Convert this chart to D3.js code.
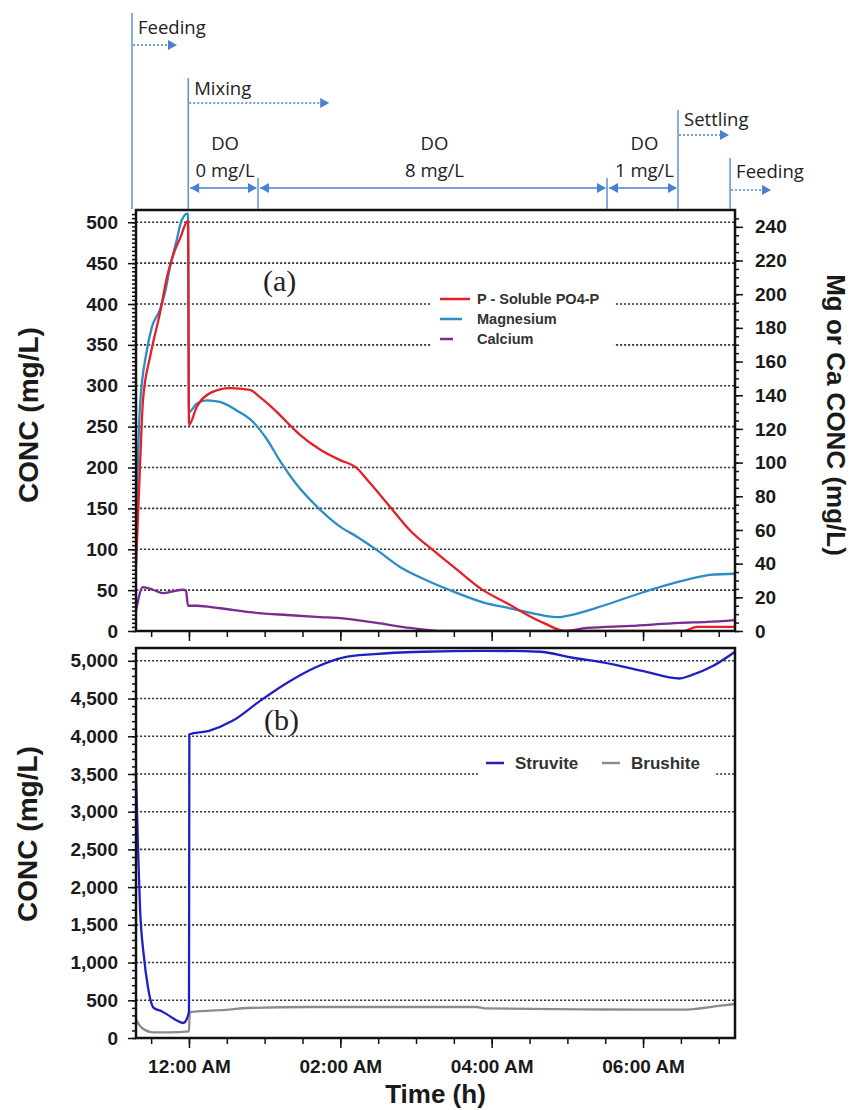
<!DOCTYPE html>
<html>
<head>
<meta charset="utf-8">
<script src="https://cdn.jsdelivr.net/npm/d3@7"></script>
<style>
  body { margin: 0; background: #fff; }
  svg { display: block; }
  .tick text { font-family: "Liberation Sans", Arial, sans-serif; font-weight: bold; font-size: 19px; fill: #1a1a1a; }
  .tick line { stroke: #111; stroke-width: 1.5; }
  .ann { font-family: "Open Sans", sans-serif; font-size: 18.5px; fill: #222; }
  .title { font-family: "Liberation Sans", Arial, sans-serif; font-weight: bold; fill: #1a1a1a; }
</style>
</head>
<body>
<svg id="chart" width="854" height="1110"></svg>
<script>
// time is in hours from midnight (negative = before 12:00 AM)

// panel (a) - P on left axis, Mg / Ca on right axis
var hoursP = [-0.70, -0.648, -0.608, -0.515, -0.476, -0.383, -0.291, -0.185, -0.119, -0.013, 0.0,
    0.102, 0.278, 0.542, 0.806, 0.938, 1.159, 1.374, 1.467, 1.731, 1.996, 2.194, 2.392, 2.656,
    2.921, 3.225, 3.542, 3.885, 4.202, 4.546, 4.705, 4.969, 6.528, 6.713, 7.215];
var phosphate = [80, 200, 282, 335, 352, 389, 433, 466, 480, 502, 252,
    274, 291, 297, 295, 286, 268, 248, 240, 222, 209, 201, 181, 152,
    123, 99, 75, 50, 34, 16, 9, 0, 0, 5, 5];

var hoursMg = [-0.70, -0.648, -0.559, -0.493, -0.383, -0.317, -0.251, -0.163, -0.096, -0.013, 0.0,
    0.102, 0.234, 0.41, 0.63, 0.85, 1.027, 1.203, 1.423, 1.688, 1.996, 2.22, 2.484, 2.788,
    3.145, 3.489, 3.885, 4.242, 4.546, 4.731, 4.87, 4.995, 5.471, 6.0, 6.581, 6.885, 7.215];
var magnesium = [60, 133, 166, 180, 191, 201, 216, 232, 244, 248, 130,
    135, 137, 136, 131, 124, 114, 101, 87, 74, 62, 56, 48, 38,
    30, 23.5, 17, 13.5, 10.5, 8.8, 8.2, 9, 15, 23, 30.5, 33.3, 34];

var hoursCa = [-0.70, -0.608, -0.476, -0.344, -0.211, -0.079, -0.04, -0.013, 0.106, 0.41, 0.846,
    1.295, 1.731, 1.996, 2.484, 2.921, 3.357, 4.943, 5.26, 5.828, 6.489, 6.846, 7.215];
var calcium = [12, 26, 24.5, 22.5, 23.5, 24.5, 24, 15, 15, 13.5, 11,
    9.5, 8.3, 7.7, 4.8, 1.8, 0, 0, 1.8, 3, 4.8, 5.4, 6.5];

// panel (b)
var hoursStruvite = [-0.70, -0.674, -0.648, -0.596, -0.544, -0.466, -0.362, -0.284, -0.18, -0.075, -0.024,
    0.0, 0.005, 0.263, 0.575, 0.94, 1.304, 1.669, 2.034, 2.45, 3.075, 3.908, 4.637, 5.054,
    5.47, 5.99, 6.485, 6.615, 6.928, 7.215];
var struvite = [3500, 2544, 1748, 1084, 686, 398, 354, 310, 243, 199, 265,
    354, 4027, 4071, 4204, 4469, 4713, 4912, 5044, 5089, 5120, 5133, 5120, 5044,
    4978, 4867, 4766, 4801, 4934, 5120];

var hoursBrushite = [-0.70, -0.622, -0.466, -0.258, 0.0, 0.01, 0.523, 0.784, 1.565, 3.803, 3.908,
    5.47, 6.511, 7.032, 7.215];
var brushite = [243, 133, 75, 75, 88, 340, 376, 398, 411, 411, 392,
    378, 376, 429, 451];

// ticks and labels
var leftTicksA = [0, 50, 100, 150, 200, 250, 300, 350, 400, 450, 500];
var rightTicksA = [0, 20, 40, 60, 80, 100, 120, 140, 160, 180, 200, 220, 240];
var leftTicksB = [0, 500, 1000, 1500, 2000, 2500, 3000, 3500, 4000, 4500, 5000];
var timeTicks = [0, 2, 4, 6];
var timeTickLabels = ["12:00 AM", "02:00 AM", "04:00 AM", "06:00 AM"];

var seriesA = ["P - Soluble PO4-P", "Magnesium", "Calcium"];
var seriesB = ["Struvite", "Brushite"];

// operating phases drawn above panel (a)
var phaseNames = ["Feeding", "Mixing", "Settling", "Feeding"];
var phaseStart = [-0.753, -0.01, 6.462, 7.15];
var doTitle = "DO";
var doLabels = ["0 mg/L", "8 mg/L", "1 mg/L"];
var doBounds = [-0.01, 0.912, 5.524, 6.462];

var svg = d3.select("#chart"),
    LEFT = 136,
    RIGHT = 735,
    TOP_A = 210,
    BOT_A = 631,
    TOP_B = 648,
    BOT_B = 1038,
    BLUE_ANN = "#4a7fd2",
    colorsA = ["#e41f26", "#2b8cc6", "#7b2a8e"],
    colorsB = ["#1f1fc4", "#8c8c8c"];

svg.append("rect").attr("width", 854).attr("height", 1110).attr("fill", "#fff");

var x = d3.scaleLinear().domain([-0.70, 7.215]).range([LEFT, RIGHT]),
    yA = d3.scaleLinear().domain([0, 515]).range([BOT_A, TOP_A]),
    yAR = d3.scaleLinear().domain([0, 250]).range([BOT_A, TOP_A]),
    yB = d3.scaleLinear().domain([0, 5170]).range([BOT_B, TOP_B]);

// dashed gridlines
function grid(scale, ticks) {
    svg.append("g").selectAll("line")
        .data(ticks.filter(function(d) { return d > 0; }))
        .enter().append("line")
        .attr("x1", LEFT).attr("x2", RIGHT)
        .attr("y1", function(d) { return scale(d); })
        .attr("y2", function(d) { return scale(d); })
        .attr("stroke", "#3a3a3a")
        .attr("stroke-width", 1.6)
        .attr("stroke-dasharray", "2.2,1.8");
}
grid(yA, leftTicksA);
grid(yB, leftTicksB);

// legend backgrounds hide the gridlines
svg.append("rect").attr("x", 432).attr("y", 284).attr("width", 182).attr("height", 68).attr("fill", "#fff");
svg.append("rect").attr("x", 478).attr("y", 752).attr("width", 236).attr("height", 26).attr("fill", "#fff");

// axes
function noDomain(g) { g.select(".domain").remove(); }

svg.append("g").attr("transform", "translate(" + LEFT + ",0)")
    .call(d3.axisLeft(yA).tickValues(d3.range(0, 515, 5)).tickSize(4).tickFormat(""))
    .call(noDomain);
svg.append("g").attr("transform", "translate(" + LEFT + ",0)")
    .call(d3.axisLeft(yA).tickValues(leftTicksA).tickSize(8).tickPadding(10))
    .call(noDomain);

svg.append("g").attr("transform", "translate(" + RIGHT + ",0)")
    .call(d3.axisRight(yAR).tickValues(d3.range(0, 250, 5)).tickSize(4).tickFormat(""))
    .call(noDomain);
svg.append("g").attr("transform", "translate(" + RIGHT + ",0)")
    .call(d3.axisRight(yAR).tickValues(rightTicksA).tickSize(8).tickPadding(12))
    .call(noDomain);

svg.append("g").attr("transform", "translate(" + LEFT + ",0)")
    .call(d3.axisLeft(yB).tickValues(d3.range(0, 5170, 100)).tickSize(4).tickFormat(""))
    .call(noDomain);
svg.append("g").attr("transform", "translate(" + LEFT + ",0)")
    .call(d3.axisLeft(yB).tickValues(leftTicksB).tickSize(8).tickPadding(10).tickFormat(d3.format(",")))
    .call(noDomain);

var minorTimes = d3.range(-0.5, 7.21, 0.5);
[BOT_A, BOT_B].forEach(function(yy, k) {
    svg.append("g").attr("transform", "translate(0," + yy + ")")
        .call(d3.axisBottom(x).tickValues(minorTimes).tickSize(6).tickFormat(""))
        .call(noDomain);
    svg.append("g").attr("transform", "translate(0," + yy + ")")
        .call(d3.axisBottom(x).tickValues(timeTicks).tickSize(10).tickPadding(12)
            .tickFormat(function(d, i) { return k == 1 ? timeTickLabels[i] : ""; }))
        .call(noDomain);
});

// series lines
svg.append("clipPath").attr("id", "clipA").append("rect")
    .attr("x", LEFT).attr("y", TOP_A).attr("width", RIGHT - LEFT).attr("height", BOT_A - TOP_A);
svg.append("clipPath").attr("id", "clipB").append("rect")
    .attr("x", LEFT).attr("y", TOP_B).attr("width", RIGHT - LEFT).attr("height", BOT_B - TOP_B);

function drawLine(hours, values, yScale, color, clip) {
    var lineGen = d3.line()
        .x(function(d) { return x(d[0]); })
        .y(function(d) { return yScale(d[1]); })
        .curve(d3.curveMonotoneX);
    svg.append("path")
        .attr("d", lineGen(d3.zip(hours, values)))
        .attr("clip-path", "url(#" + clip + ")")
        .attr("stroke", color)
        .attr("stroke-width", 2.3)
        .attr("stroke-linejoin", "round")
        .attr("fill", "none");
}
drawLine(hoursCa, calcium, yAR, colorsA[2], "clipA");
drawLine(hoursMg, magnesium, yAR, colorsA[1], "clipA");
drawLine(hoursP, phosphate, yA, colorsA[0], "clipA");
drawLine(hoursBrushite, brushite, yB, colorsB[1], "clipB");
drawLine(hoursStruvite, struvite, yB, colorsB[0], "clipB");

// frames
[[TOP_A, BOT_A], [TOP_B, BOT_B]].forEach(function(p) {
    svg.append("rect")
        .attr("x", LEFT).attr("y", p[0])
        .attr("width", RIGHT - LEFT).attr("height", p[1] - p[0])
        .attr("fill", "none").attr("stroke", "#111").attr("stroke-width", 2.5);
});

// legends
var legLenA = [30, 22, 13];
seriesA.forEach(function(name, i) {
    var ly = 299 + i * 20;
    svg.append("line").attr("x1", 440).attr("x2", 440 + legLenA[i]).attr("y1", ly).attr("y2", ly)
        .attr("stroke", colorsA[i]).attr("stroke-width", 2.5);
    svg.append("text").attr("class", "title").attr("x", 477).attr("y", ly + 5)
        .style("font-size", "14.5px").style("fill", "#333").text(name);
});
var legXB = [486, 602];
seriesB.forEach(function(name, i) {
    svg.append("line").attr("x1", legXB[i]).attr("x2", legXB[i] + 18).attr("y1", 763).attr("y2", 763)
        .attr("stroke", colorsB[i]).attr("stroke-width", 2.5);
    svg.append("text").attr("class", "title").attr("x", legXB[i] + 29).attr("y", 769)
        .style("font-size", "17px").style("fill", "#333").text(name);
});

svg.append("text").attr("x", 263).attr("y", 291)
    .style("font-family", "'Liberation Serif', serif").style("font-size", "30px").style("fill", "#222")
    .text("(a)");
svg.append("text").attr("x", 264).attr("y", 730)
    .style("font-family", "'Liberation Serif', serif").style("font-size", "30px").style("fill", "#222")
    .text("(b)");

// axis titles
svg.append("text").attr("class", "title")
    .attr("transform", "translate(28,415) rotate(-90)")
    .attr("text-anchor", "middle").attr("dominant-baseline", "central")
    .style("font-size", "28px").text("CONC (mg/L)");
svg.append("text").attr("class", "title")
    .attr("transform", "translate(27,834) rotate(-90)")
    .attr("text-anchor", "middle").attr("dominant-baseline", "central")
    .style("font-size", "28px").text("CONC (mg/L)");
svg.append("text").attr("class", "title")
    .attr("transform", "translate(836,415) rotate(90)")
    .attr("text-anchor", "middle").attr("dominant-baseline", "central")
    .style("font-size", "26px").text("Mg or Ca CONC (mg/L)");
svg.append("text").attr("class", "title")
    .attr("x", (LEFT + RIGHT) / 2).attr("y", 1103)
    .attr("text-anchor", "middle")
    .style("font-size", "26px").text("Time (h)");

// phase annotations
function head(px, py, dir) {
    svg.append("path")
        .attr("d", "M" + px + "," + py + "L" + (px - dir * 9) + "," + (py - 5) + "L" + (px - dir * 9) + "," + (py + 5) + "Z")
        .attr("fill", BLUE_ANN);
}
function vline(px, top) {
    svg.append("line").attr("x1", px).attr("x2", px).attr("y1", top).attr("y2", TOP_A - 1)
        .attr("stroke", BLUE_ANN).attr("stroke-width", 1.3);
}

var phaseTop = [13, 78, 110, 158],
    phaseTextY = [34, 95, 126, 178],
    phaseArrowY = [45, 103, 135, 190],
    phaseArrowLen = [45, 141, 51, 41];
phaseNames.forEach(function(name, i) {
    var px = x(phaseStart[i]);
    vline(px, phaseTop[i]);
    svg.append("text").attr("class", "ann").attr("x", px + 6).attr("y", phaseTextY[i]).text(name);
    svg.append("line")
        .attr("x1", px + 1).attr("x2", px + phaseArrowLen[i] - 6)
        .attr("y1", phaseArrowY[i]).attr("y2", phaseArrowY[i])
        .attr("stroke", BLUE_ANN).attr("stroke-width", 1.3).attr("stroke-dasharray", "2,2");
    head(px + phaseArrowLen[i], phaseArrowY[i], 1);
});

doLabels.forEach(function(lbl, i) {
    var x0 = x(doBounds[i]), x1 = x(doBounds[i + 1]), mid = (x0 + x1) / 2;
    if (i > 0) vline(x0, 178);
    svg.append("text").attr("class", "ann").attr("x", mid + 2).attr("y", 150)
        .attr("text-anchor", "middle").text(doTitle);
    svg.append("text").attr("class", "ann").attr("x", mid + 2).attr("y", 177)
        .attr("text-anchor", "middle").text(lbl);
    svg.append("line").attr("x1", x0 + 2).attr("x2", x1 - 2).attr("y1", 188).attr("y2", 188)
        .attr("stroke", BLUE_ANN).attr("stroke-width", 1.3);
    head(x0 + 2, 188, -1);
    head(x1 - 1, 188, 1);
});
</script>
</body>
</html>
